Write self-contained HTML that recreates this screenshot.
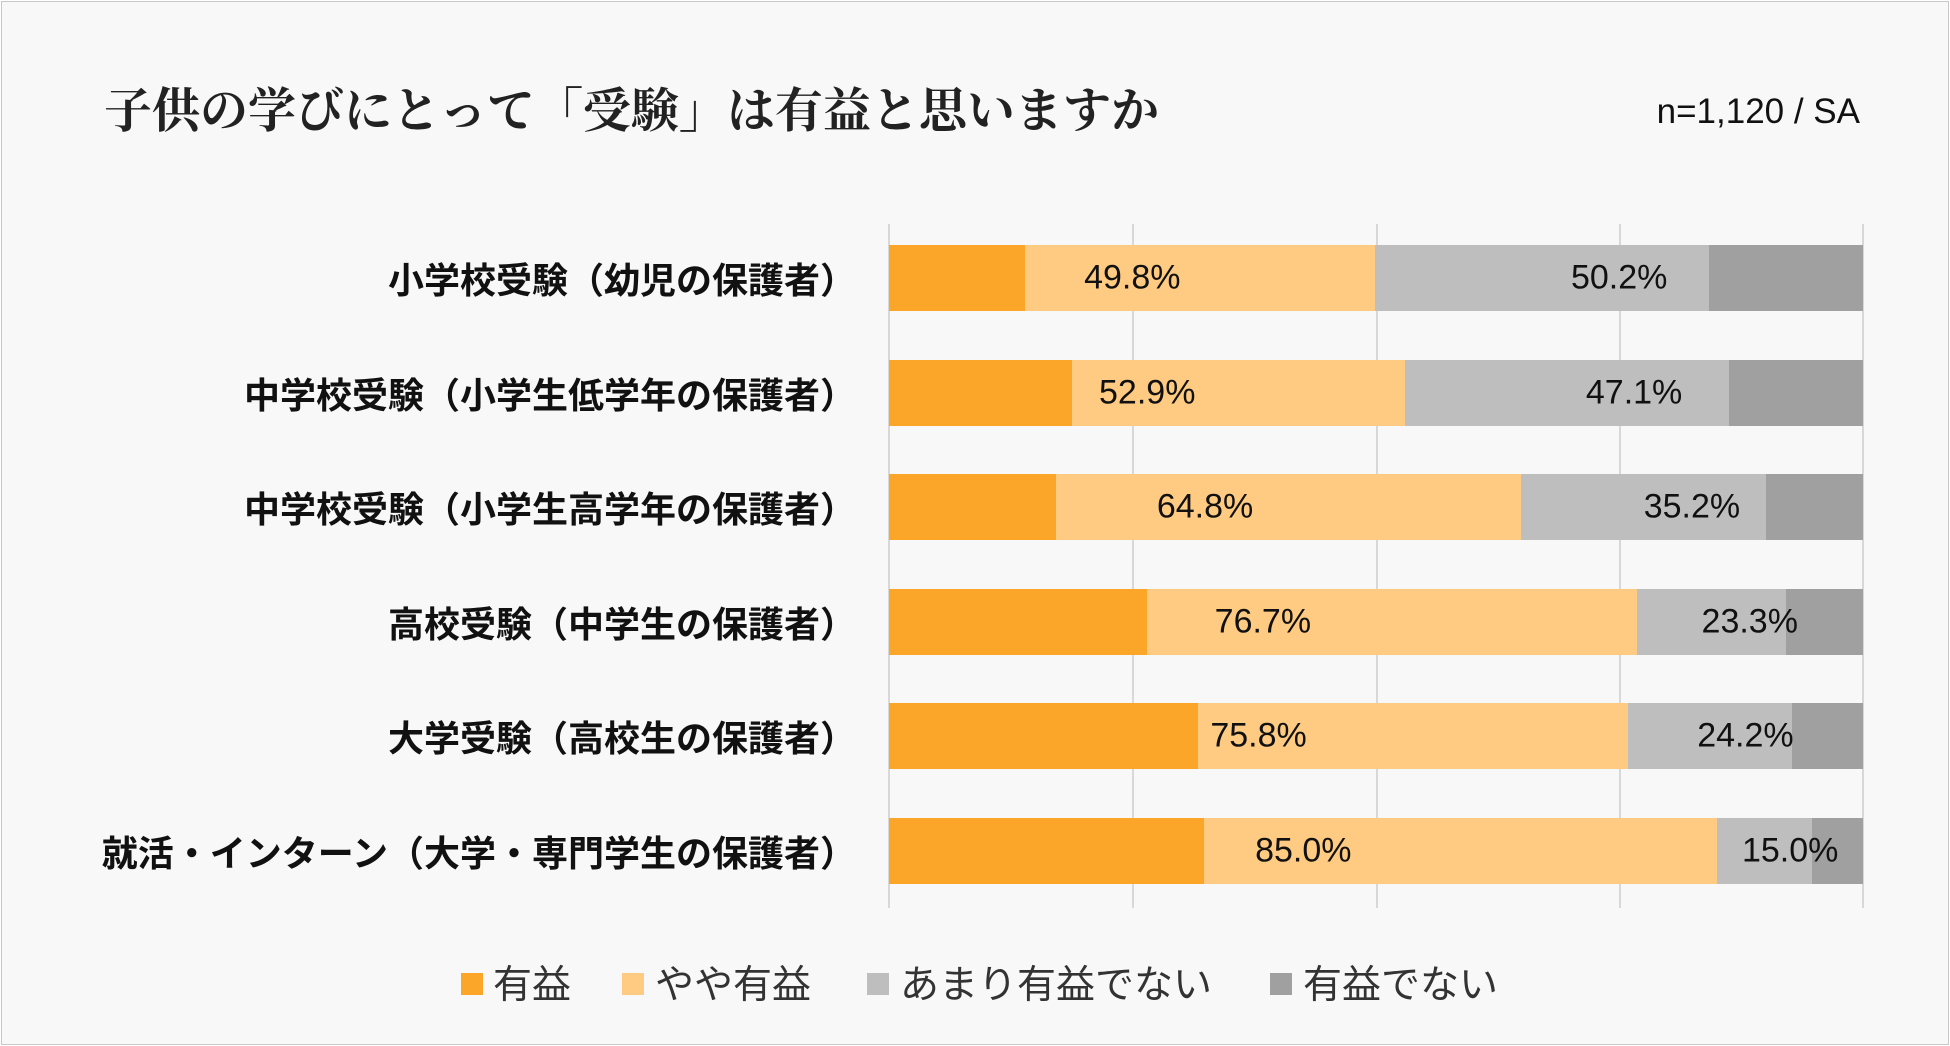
<!DOCTYPE html>
<html><head><meta charset="utf-8"><style>
body{margin:0;width:1950px;height:1046px;background:#fff;overflow:hidden}
#f{position:absolute;left:1px;top:1px;width:1946px;height:1042px;border:1px solid #c8c8c8;background:#f8f8f8}
.a{position:absolute;white-space:nowrap}
.t{font-family:"Liberation Serif","Noto Serif CJK SC",serif;font-size:48px;font-weight:bold;color:#222}
.j{font-family:"Liberation Sans","Noto Sans CJK JP",sans-serif}
.c{font-weight:bold;font-size:36px;color:#111;text-align:right;transform:translateY(-50%)}
.p{font-size:34px;color:#111;transform:translate(-50%,-50%)}
.g{position:absolute;top:224px;height:684px;width:2px;background:#d8d8d8}
.s{position:absolute;height:66px}
.l{font-size:39px;color:#333;transform:translateY(-50%)}
.q{position:absolute;width:22px;height:22px}
</style></head><body><div id="f"></div>
<div class="a t" style="left:104px;top:72px">子供の学びにとって「受験」は有益と思いますか</div>
<div class="a j" style="right:90px;top:92px;font-size:35px;color:#111">n=1,120 / SA</div>
<div class="g" style="left:888px"></div><div class="g" style="left:1132px"></div><div class="g" style="left:1376px"></div><div class="g" style="left:1619px"></div><div class="g" style="left:1862px"></div>
<div id="bars"></div>
<script>
const k=1.2436;
const rows=[["小学校受験（幼児の保護者）",[715,824,1106,1374,1498],"49.8%","50.2%"],
["中学校受験（小学生低学年の保護者）",[715,862,1130,1390,1498],"52.9%","47.1%"],
["中学校受験（小学生高学年の保護者）",[715,849,1223,1420,1498],"64.8%","35.2%"],
["高校受験（中学生の保護者）",[715,922,1316,1436,1498],"76.7%","23.3%"],
["大学受験（高校生の保護者）",[715,963,1309,1441,1498],"75.8%","24.2%"],
["就活・インターン（大学・専門学生の保護者）",[715,968,1381,1457,1498],"85.0%","15.0%"]];
const col=["#FBA628","#FFCB82","#BEBEBE","#A0A0A0"];
let h="";
rows.forEach((r,i)=>{const top=245+i*114.6,cy=top+33;const x=r[1].map(v=>v*k);
for(let s=0;s<4;s++)h+=`<div class="s" style="left:${x[s]}px;width:${x[s+1]-x[s]+0.5}px;top:${top}px;background:${col[s]}"></div>`;
h+=`<div class="a j c" style="right:${1950-856}px;top:${cy}px">${r[0]}</div>`;
h+=`<div class="a j p" style="left:${(x[0]+x[2])/2}px;top:${cy}px">${r[2]}</div>`;
h+=`<div class="a j p" style="left:${(x[2]+x[4])/2}px;top:${cy}px">${r[3]}</div>`;});
document.getElementById("bars").innerHTML=h;
</script>
<div class="q" style="left:461px;top:973px;background:#FBA628"></div><div class="a j l" style="left:493px;top:982px">有益</div>
<div class="q" style="left:622px;top:973px;background:#FFCB82"></div><div class="a j l" style="left:655px;top:982px">やや有益</div>
<div class="q" style="left:867px;top:973px;background:#BEBEBE"></div><div class="a j l" style="left:900px;top:982px">あまり有益でない</div>
<div class="q" style="left:1270px;top:973px;background:#A0A0A0"></div><div class="a j l" style="left:1303px;top:982px">有益でない</div>
</body></html>
